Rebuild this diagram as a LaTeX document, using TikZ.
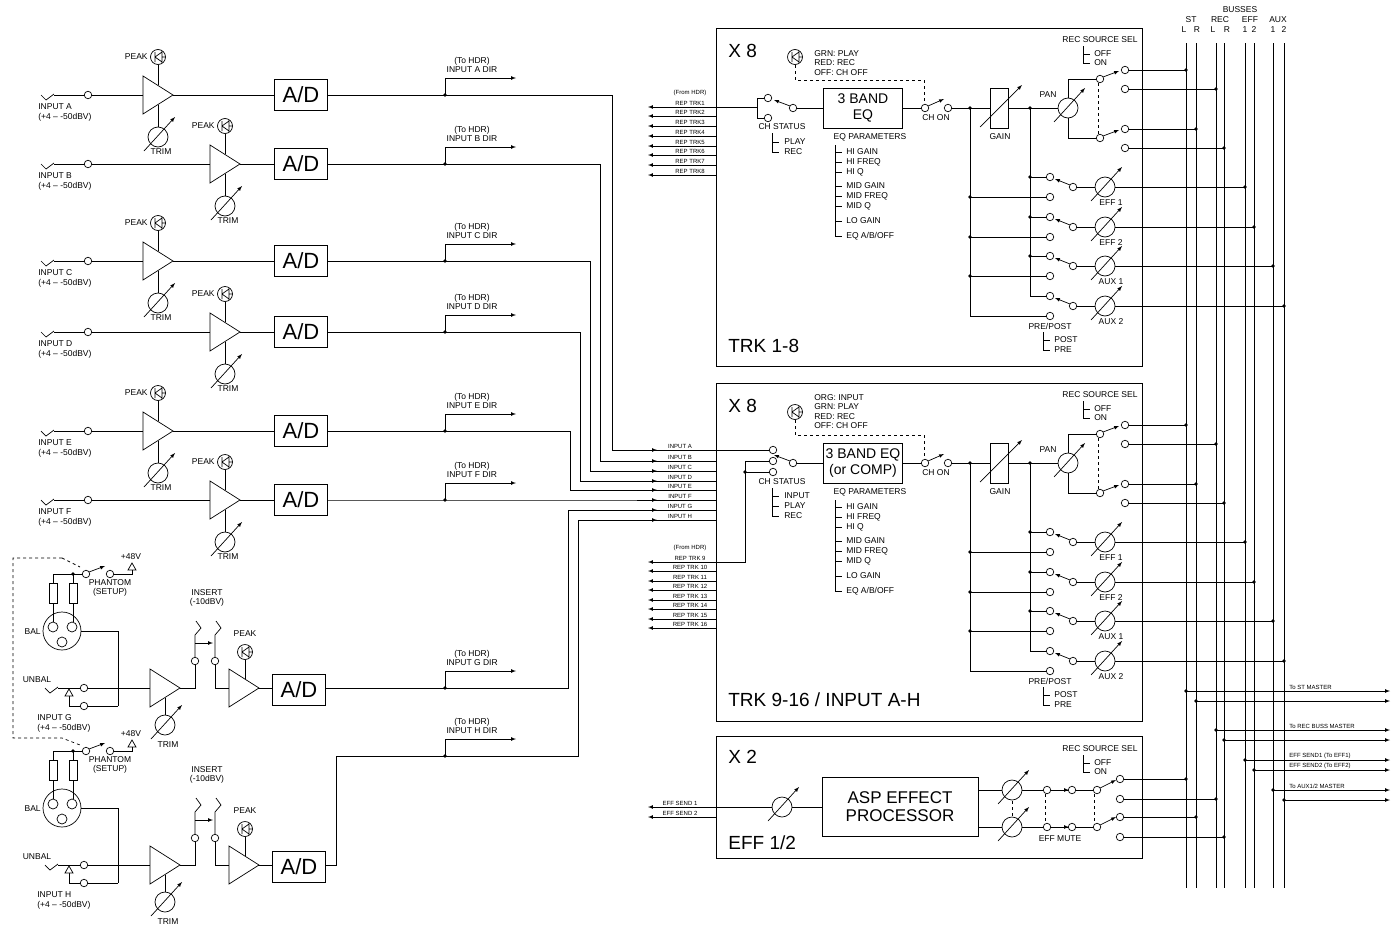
\documentclass[tikz,border=0pt]{standalone}
\usepackage{fontspec}
\setmainfont{Liberation Sans}
\usetikzlibrary{arrows, positioning, calc}

\tikzset{
  lbl/.style={font=\fontsize{8.5}{9.5}\selectfont, inner sep=1pt},
  tiny/.style={font=\fontsize{6}{7}\selectfont, inner sep=1pt},
  bigtxt/.style={font=\fontsize{19}{21}\selectfont, inner sep=0pt},
  adbox/.style={draw, thick, minimum width=53pt, minimum height=31pt, inner sep=0pt, font=\fontsize{22}{24}\selectfont},
  eqbox/.style={draw, thick, minimum width=79pt, minimum height=40pt, inner sep=0pt, align=center, font=\fontsize{14}{16}\selectfont},
  swc/.style={circle, draw, fill=white, inner sep=0pt, minimum size=7.5pt},
  dot/.style={circle, fill, inner sep=0pt, minimum size=3.6pt},
  knob/.pic={\draw[fill=white] (0,0) circle (10pt); \draw[-latex] (-14,14) -- (17,-20);},
  amp/.pic={\draw (0,-19) -- (30,0) -- (0,19) -- cycle;},
  led/.pic={\draw (0,0) circle (7.5pt);
    \draw (-3,-5) -- (-3,5) (-3,0) -- (4,-5) (-3,0) -- (4,5) (4,-6) -- (4,6) (4,0) -- (7.5,0);},
  jack/.pic={\draw (0,0) -- (5,5) -- (13,-1);},
  ins/.pic={\draw (0,0) -- (0,-22) -- (6,-29) -- (1,-36);},
}

% one track strip (drawn in TRK 1-8 position)
\newcommand\trkstrip[1]{%
  \draw[thick] (716,28) rectangle (1142,366);
  \node[bigtxt, anchor=west] at (728,51) {X 8};
  \pic at (795,57) {led};
  \draw[dashed] (795,65) -- (795,80) -- (924,80) -- (924,104);
  \node[eqbox] (eq) at (863,108) {#1};
  \draw (793,108) -- (eq.west) (eq.east) -- (925,108);
  \draw (948,108) -- (1058,108);
  \draw[-latex] (790,106) -- (774,100);
  \draw[-latex] (928,106) -- (944,99);
  \node[lbl] at (936,118) {CH ON};
  % gain and pan
  \draw[fill=white] (990,88) rectangle (1008,128);
  \draw[-latex] (980,127) -- (1022,85);
  \node[lbl] at (1000,137) {GAIN};
  \pic at (1068,108) {knob};
  \node[lbl] at (1048,95) {PAN};
  \draw (1068,98) -- (1068,79) -- (1100,79) (1068,118) -- (1068,138) -- (1100,138);
  \draw[-latex] (1103,77) -- (1119,71);
  \draw[-latex] (1103,136) -- (1119,130);
  \draw[dashed] (1098,83) -- (1098,134);
  \draw (1125,70) -- (1186,70) (1125,89) -- (1216,89) (1125,129) -- (1196,129) (1125,148) -- (1224,148);
  \foreach \bx/\by in {1186/70, 1216/89, 1196/129, 1224/148} \node[dot] at (\bx,\by) {};
  \node[lbl] at (1100,40) {REC SOURCE SEL};
  \draw (1083,46) -- (1083,63) -- (1090,63) (1083,54) -- (1090,54);
  \node[lbl, anchor=west] at (1093,54) {OFF};
  \node[lbl, anchor=west] at (1093,63) {ON};
  % sends
  \draw (970,108) -- (970,316) (1030,108) -- (1030,296);
  \foreach \r/\bx/\t in {187/1245/EFF 1, 227/1254/EFF 2, 266/1273/AUX 1, 306/1284/AUX 2}{
    \draw (1030,\r-10) -- (1050,\r-10) (970,\r+10) -- (1050,\r+10) (1073,\r) -- (1095,\r) (1115,\r) -- (\bx,\r);
    \draw[-latex] (1070,\r-2) -- (1055,\r-8);
    \pic at (1105,\r) {knob};
    \node[dot] at (\bx,\r) {};
    \node[lbl] at (1111,\r+16) {\t};
    \node[swc] at (1050,\r-10) {};
    \node[swc] at (1050,\r+10) {};
    \node[swc] at (1073,\r) {};
  }
  \foreach \px/\py in {970/108, 1030/108, 970/197, 970/237, 970/276, 1030/177, 1030/217, 1030/256} \node[dot] at (\px,\py) {};
  \node[lbl] at (1050,326) {PRE/POST};
  \draw (1043,332) -- (1043,350) -- (1050,350) (1043,340) -- (1050,340);
  \node[lbl, anchor=west] at (1053,340) {POST};
  \node[lbl, anchor=west] at (1053,350) {PRE};
  % eq parameters
  \node[lbl] at (870,137) {EQ PARAMETERS};
  \draw (835,145) -- (835,236) -- (842,236);
  \foreach \q/\t in {152/HI GAIN, 162/HI FREQ, 172/HI Q, 186/MID GAIN, 196/MID FREQ, 206/MID Q, 221/LO GAIN, 236/{EQ A/B/OFF}}{
    \draw (835,\q) -- (842,\q);
    \node[lbl, anchor=west] at (845,\q) {\t};
  }
  \node[lbl] at (782,127) {CH STATUS};
  \foreach \px/\py in {925/108, 948/108, 793/108, 1100/79, 1125/70, 1125/89, 1100/138, 1125/129, 1125/148} \node[swc] at (\px,\py) {};
}

% balanced/unbalanced input with insert (drawn in INPUT G position)
\newcommand\micin[1]{%
  \draw (62,631) circle (19pt);
  \foreach \px/\py in {53/627, 72/627, 62/642} \draw (\px,\py) circle (5pt);
  \draw (49,583) rectangle (57,603) (69,583) rectangle (77,603);
  \draw (53,583) -- (53,574) -- (86,574) (73,583) -- (73,574) (53,603) -- (53,622) (73,603) -- (73,622);
  \node[dot] at (73,574) {};
  \draw[-latex] (89,572) -- (105,566);
  \draw (110,574) -- (132,574) -- (132,570);
  \draw (128,570) -- (136,570) -- (132,563) -- cycle;
  \node[lbl] at (131,557) {+48V};
  \node[lbl, align=center] at (110,588) {PHANTOM\\(SETUP)};
  \node[lbl, anchor=east] at (42,632) {BAL};
  \draw (81,631) -- (118,631) -- (118,706);
  \node[lbl] at (37,680) {UNBAL};
  \pic at (45,688) {jack};
  \draw (58,688) -- (150,688) (69,696) -- (69,706) -- (118,706);
  \draw[fill=white] (65,696) -- (73,696) -- (69,689) -- cycle;
  \node[swc] at (86,574) {};
  \node[swc] at (110,574) {};
  \node[swc] at (84,688) {};
  \node[swc] at (84,706) {};
  \node[lbl, anchor=west] at (36,718) {INPUT #1};
  \node[lbl, anchor=west] at (36,728) {(+4 -- -50dBV)};
  \pic at (150,688) {amp};
  \draw (165,698) -- (165,715);
  \pic at (165,725) {knob};
  \node[lbl] at (168,745) {TRIM};
  \draw (180,688) -- (195,688) -- (195,661) (215,661) -- (215,688) -- (229,688);
  \pic at (195,657) {ins};
  \pic at (215,657) {ins};
  \draw[-latex] (195,643) -- (213,643);
  \node[swc] at (195,661) {};
  \node[swc] at (215,661) {};
  \node[lbl, align=center] at (207,598) {INSERT\\(-10dBV)};
  \pic at (229,688) {amp};
  \draw (245,660) -- (245,679);
  \pic at (245,652) {led};
  \node[lbl] at (245,634) {PEAK};
  \draw (258,688) -- (272,688);
  \node[adbox] at (299,690) {A/D};
}

\begin{document}
\begin{tikzpicture}[x=1pt, y=-1pt, line width=0.7pt]
\useasboundingbox (0,0) rectangle (1395,937);

% line inputs A-F
\foreach \n/\y/\ax/\rx/\by in {A/95/143/612/450, B/164/210/600/461, C/261/143/590/471, D/332/210/580/481, E/431/143/570/490, F/500/210/560/500}{
  \pic at (41,\y) {jack};
  \draw (54,\y) -- (\ax,\y);
  \node[swc] at (88,\y) {};
  \node[lbl, anchor=west] at (37,\y+12) {INPUT \n};
  \node[lbl, anchor=west] at (37,\y+22) {(+4 -- -50dBV)};
  \pic at (\ax,\y) {amp};
  \draw (\ax+15,\y-30) -- (\ax+15,\y-10) (\ax+15,\y+10) -- (\ax+15,\y+32);
  \pic at (\ax+15,\y-38) {led};
  \node[lbl, anchor=east] at (\ax+6,\y-38) {PEAK};
  \pic at (\ax+15,\y+42) {knob};
  \node[lbl] at (\ax+18,\y+57) {TRIM};
  \node[adbox] (ad\n) at (301,\y) {A/D};
  \draw (\ax+30,\y) -- (ad\n.west);
  \draw (ad\n.east) -- (\rx,\y) -- (\rx,\by) -- (716,\by);
  \node[dot] at (445,\y) {};
  \draw[-latex] (445,\y) -- (445,\y-17) -- (516,\y-17);
  \node[lbl, align=center] at (472,\y-30) {(To HDR)\\INPUT \n\ DIR};
}

% mic/line inputs G and H
\micin{G}
\begin{scope}[yshift=-177pt]
  \micin{H}
\end{scope}
\draw[dashed] (62,558) -- (13,558) -- (13,738) -- (62,738) -- (80,745);
\draw[dashed] (62,558) -- (80,567);
\draw (326,688) -- (568,688) -- (568,510) -- (716,510);
\node[dot] at (445,688) {};
\draw[-latex] (445,688) -- (445,671) -- (516,671);
\node[lbl, align=center] at (472,658) {(To HDR)\\INPUT G DIR};
\draw (326,865) -- (336,865) -- (336,756) -- (578,756) -- (578,520) -- (716,520);
\node[dot] at (445,756) {};
\draw[-latex] (445,756) -- (445,739) -- (516,739);
\node[lbl, align=center] at (472,726) {(To HDR)\\INPUT H DIR};

% input bus labels
\foreach \n/\by in {A/450, B/461, C/471, D/481, E/490, F/500, G/510, H/520}{
  \draw[-latex] (640,\by) -- (657,\by);
  \node[tiny, above] at (680,\by) {INPUT \n};
}

% TRK 1-8
\trkstrip{3 BAND\\EQ}
\node[bigtxt, anchor=west] at (728,346) {TRK 1-8};
\node[lbl, anchor=north west, align=left] at (813,49) {GRN: PLAY\\RED: REC\\OFF: CH OFF};
\foreach \k/\by in {1/107, 2/116, 3/126, 4/136, 5/146, 6/155, 7/165, 8/175}{
  \draw[-latex] (716,\by) -- (648,\by);
  \node[tiny, above] at (690,\by) {REP TRK\k};
}
\node[tiny] at (690,93) {(From HDR)};
\draw (716,107) -- (757,107) (757,98) -- (757,118) (757,98) -- (768,98) (757,118) -- (768,118);
\node[swc] at (768,98) {};
\node[swc] at (768,118) {};
\draw (772,133) -- (772,152) -- (779,152) (772,142) -- (779,142);
\node[lbl, anchor=west] at (783,142) {PLAY};
\node[lbl, anchor=west] at (783,152) {REC};

% TRK 9-16 / INPUT A-H
\begin{scope}[yshift=-355pt]
  \trkstrip{3 BAND EQ\\(or COMP)}
\end{scope}
\node[bigtxt, anchor=west] at (728,700) {TRK 9-16 / INPUT A-H};
\node[lbl, anchor=north west, align=left] at (813,393) {ORG: INPUT\\GRN: PLAY\\RED: REC\\OFF: CH OFF};
\foreach \k/\by in {9/562, 10/571, 11/581, 12/590, 13/600, 14/609, 15/619, 16/628}{
  \draw[-latex] (716,\by) -- (648,\by);
  \node[tiny, above] at (690,\by) {REP TRK \k};
}
\node[tiny] at (690,548) {(From HDR)};
\draw (716,450) -- (773,450) (716,562) -- (745,562) -- (745,461) -- (773,461) (745,472) -- (773,472);
\node[dot] at (745,472) {};
\foreach \q in {450, 461, 472} \node[swc] at (773,\q) {};
\draw (772,488) -- (772,516) -- (779,516) (772,496) -- (779,496) (772,506) -- (779,506);
\node[lbl, anchor=west] at (783,496) {INPUT};
\node[lbl, anchor=west] at (783,506) {PLAY};
\node[lbl, anchor=west] at (783,516) {REC};

% EFF 1/2
\draw[thick] (716,736) rectangle (1142,858);
\node[bigtxt, anchor=west] at (728,757) {X 2};
\node[bigtxt, anchor=west] at (728,843) {EFF 1/2};
\node[draw, thick, minimum width=156pt, minimum height=59pt, align=center, font=\fontsize{17}{18}\selectfont] (asp) at (900,807) {ASP EFFECT\\PROCESSOR};
\draw[-latex] (716,807) -- (648,807);
\draw[-latex] (716,817) -- (648,817);
\node[tiny, above] at (680,807) {EFF SEND 1};
\node[tiny, above] at (680,817) {EFF SEND 2};
\draw (716,807) -- (asp.west);
\pic at (782,807) {knob};
\foreach \o/\a/\b in {790/779/799, 827/817/837}{
  \draw (978,\o) -- (1097,\o);
  \pic at (1012,\o) {knob};
  \draw[-latex] (1051,\o) -- (1069,\o);
  \draw[-latex] (1100,\o-2) -- (1116,\o-10);
  \node[swc] at (1047,\o) {};
  \node[swc] at (1072,\o) {};
  \node[swc] at (1097,\o) {};
  \node[swc] at (1120,\a) {};
  \node[swc] at (1120,\b) {};
}
\draw[dashed] (1012,801) -- (1012,816) (1045,794) -- (1045,823) (1094,794) -- (1094,823);
\draw (1124,779) -- (1186,779) (1124,799) -- (1216,799) (1124,817) -- (1196,817) (1124,837) -- (1224,837);
\foreach \px/\py in {1186/779, 1216/799, 1196/817, 1224/837} \node[dot] at (\px,\py) {};
\node[lbl] at (1060,839) {EFF MUTE};
\node[lbl] at (1100,749) {REC SOURCE SEL};
\draw (1083,755) -- (1083,772) -- (1090,772) (1083,763) -- (1090,763);
\node[lbl, anchor=west] at (1093,763) {OFF};
\node[lbl, anchor=west] at (1093,772) {ON};

% busses
\foreach \bx in {1186, 1196, 1216, 1224, 1245, 1254, 1273, 1284} \draw (\bx,43) -- (\bx,888);
\node[lbl] at (1240,10) {BUSSES};
\foreach \px/\t in {1191/ST, 1220/REC, 1250/EFF, 1278/AUX} \node[lbl] at (\px,20) {\t};
\foreach \px/\t in {1184/L, 1197/R, 1213/L, 1227/R, 1245/1, 1254/2, 1273/1, 1284/2} \node[lbl] at (\px,30) {\t};
\foreach \bx/\by in {1186/691, 1196/701, 1216/730, 1224/740, 1245/760, 1254/770, 1273/790, 1284/800}{
  \node[dot] at (\bx,\by) {};
  \draw[-latex] (\bx,\by) -- (1390,\by);
}
\node[tiny, above right] at (1288,691) {To ST MASTER};
\node[tiny, above right] at (1288,730) {To REC BUSS MASTER};
\node[tiny, above right] at (1288,760) {EFF SEND1 (To EFF1)};
\node[tiny, above right] at (1288,770) {EFF SEND2 (To EFF2)};
\node[tiny, above right] at (1288,790) {To AUX1/2 MASTER};
\end{tikzpicture}
\end{document}
